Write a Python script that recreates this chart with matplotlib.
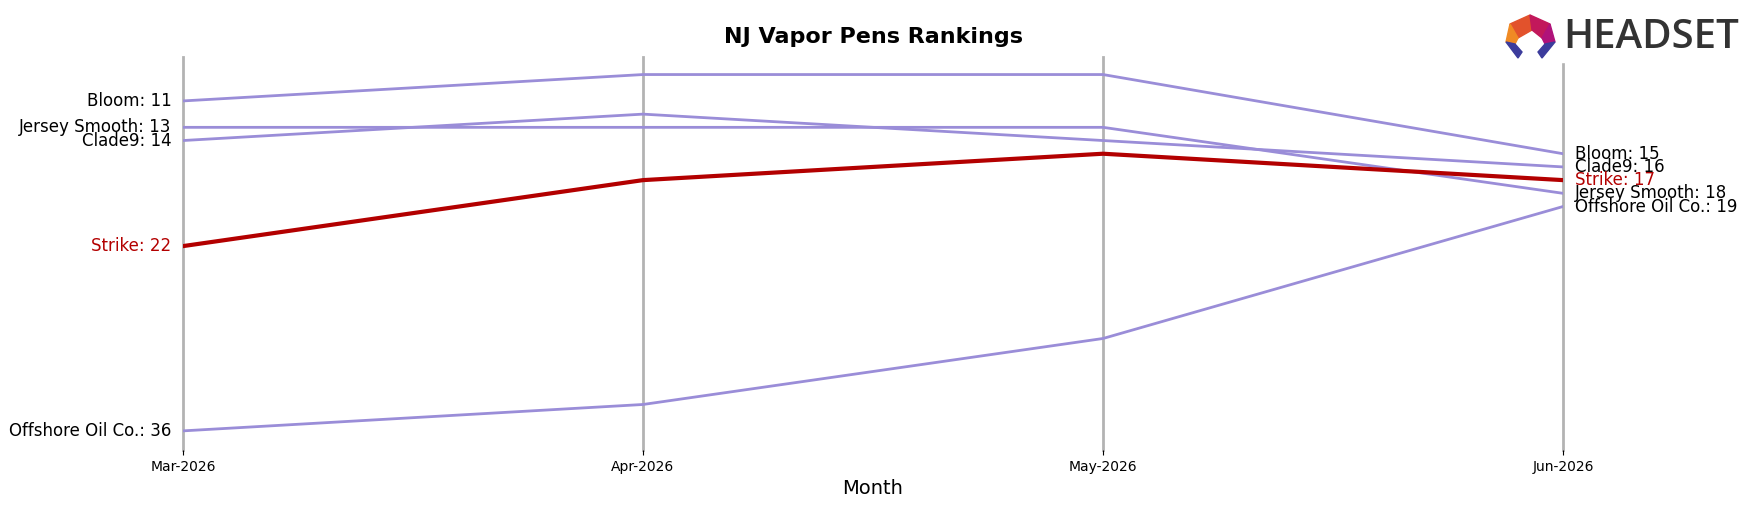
import matplotlib
matplotlib.use("Agg")
import matplotlib.pyplot as plt
from matplotlib.patches import Polygon, Rectangle

# Data
months = ["Mar-2026", "Apr-2026", "May-2026", "Jun-2026"]
brands = ["Bloom", "Jersey Smooth", "Clade9", "Strike", "Offshore Oil Co."]
bloom = [11, 9, 9, 15]
jersey_smooth = [13, 13, 13, 18]
clade9 = [14, 12, 14, 16]
strike = [22, 17, 15, 17]
offshore = [36, 34, 29, 19]
ranks = [bloom, jersey_smooth, clade9, strike, offshore]
highlight = "Strike"

PURPLE = "#9a8dd8"
RED = "#b30000"

fig = plt.figure(figsize=(17.46, 5.07), dpi=100)
ax = fig.add_axes([0.1048, 0.1124, 0.7904, 0.7752])

x = list(range(len(months)))
for xi in x:
    ax.axvline(xi, color="#b3b3b3", lw=2, zorder=0, clip_on=False)

for name, vals in zip(brands, ranks):
    if name == highlight:
        ax.plot(x, vals, color=RED, lw=3, zorder=3)
    else:
        ax.plot(x, vals, color=PURPLE, lw=2, zorder=2)

# Labels on both ends
for name, vals in zip(brands, ranks):
    c = RED if name == highlight else "black"
    ax.text(-0.025, vals[0], f"{name}: {vals[0]}", ha="right", va="center",
            fontsize=12, color=c)
    ax.text(x[-1] + 0.025, vals[-1], f"{name}: {vals[-1]}", ha="left", va="center",
            fontsize=12, color=c)

ax.set_xlim(0, 3)
ax.set_ylim(37.45, 7.67)
ax.set_xticks(x)
ax.set_xticklabels(months, fontsize=10)
ax.set_yticks([])
for s in ax.spines.values():
    s.set_visible(False)
ax.set_xlabel("Month", fontsize=14)
fig.text(0.5, 0.927, "NJ Vapor Pens Rankings", ha="center", va="center",
         fontsize=16, fontweight="bold")

# Headset logo (approximate)
W, H = 1746, 507
def px(xp, yp):
    return (xp / W, 1 - yp / H)

fig.patches.append(Rectangle(px(1500, 62), 240 / W, 60 / H, color="white",
                             transform=fig.transFigure, figure=fig, zorder=5))
logo_parts = [
    ([(1510, 24), (1530, 15), (1532, 30), (1518, 38)], "#e2522c"),
    ([(1530, 15), (1550, 24), (1542, 38), (1532, 30)], "#c2185b"),
    ([(1550, 24), (1555, 42), (1545, 44), (1542, 38)], "#b0127a"),
    ([(1510, 24), (1518, 38), (1515, 44), (1506, 42)], "#f08a24"),
    ([(1506, 42), (1515, 44), (1522, 52), (1518, 58)], "#3c3c9c"),
    ([(1555, 42), (1545, 44), (1538, 52), (1542, 58)], "#3c3c9c"),
]
for pts, col in logo_parts:
    fig.patches.append(Polygon([px(*p) for p in pts], closed=True, color=col,
                               transform=fig.transFigure, figure=fig, zorder=6))
fig.text(1563 / W, 1 - 38 / H, "HEADSET", ha="left", va="center",
         fontsize=29, color="#333333", family="Open Sans", fontweight="semibold",
         zorder=7)

fig.savefig("out.png", dpi=100)
